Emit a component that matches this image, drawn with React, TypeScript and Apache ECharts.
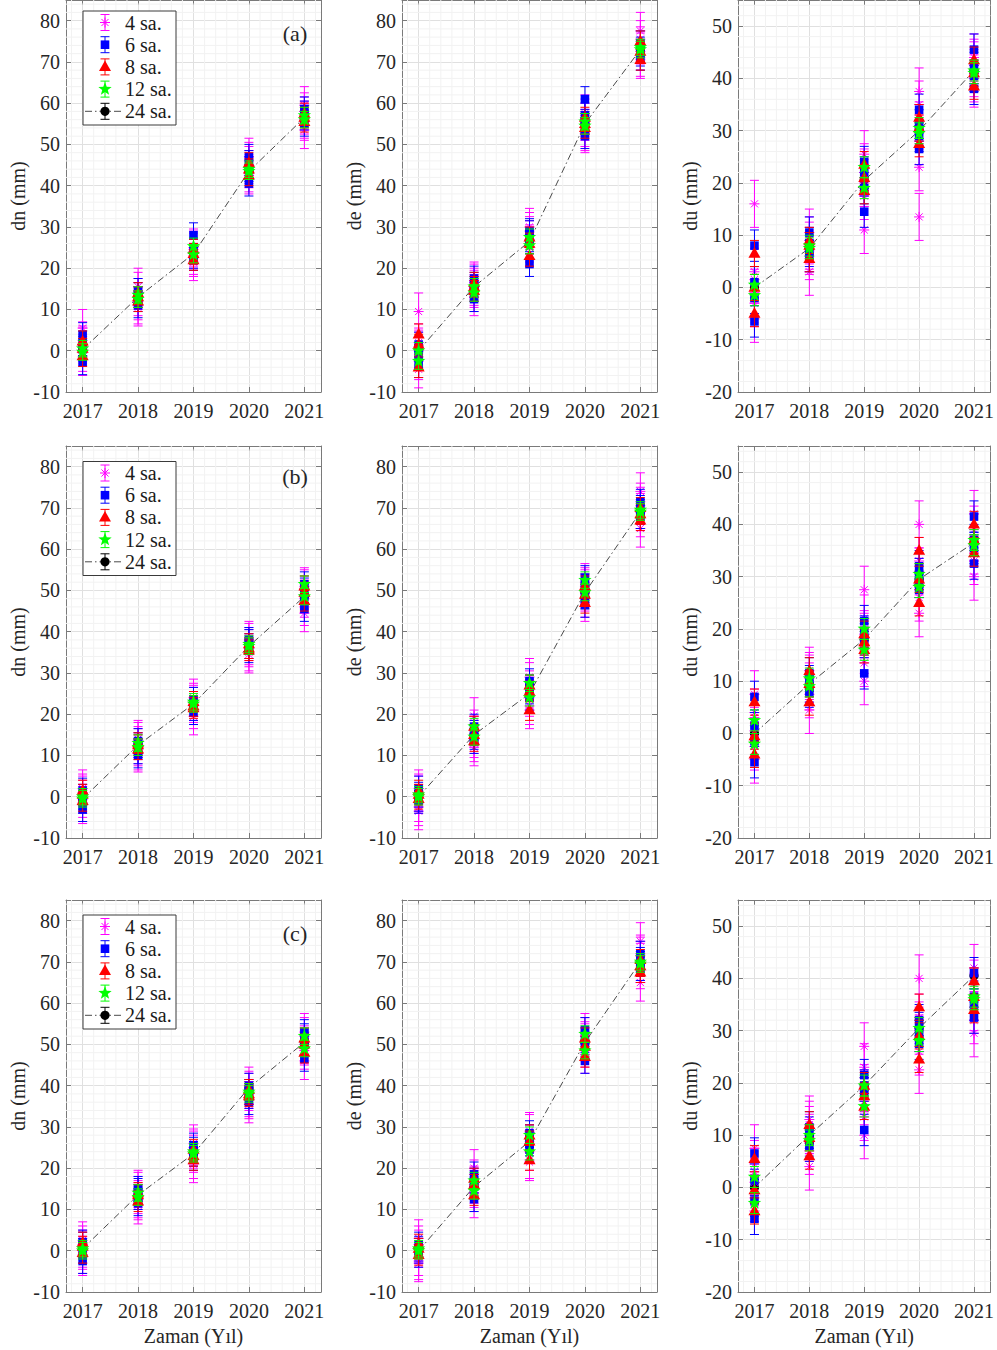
import React, { useEffect, useRef } from "react";
import * as echarts from "echarts";

// ---------- categories / labels ----------
const YEARS = [2017, 2018, 2019, 2020, 2021];
const SERIES_NAMES = ["4 sa.", "6 sa.", "8 sa.", "12 sa.", "24 sa."];
const PANEL_TAGS = ["(a)", "(b)", "(c)"];
const Y_TITLES = ["dn (mm)", "de (mm)", "du (mm)"];
const X_TITLE = "Zaman (Yıl)";
const X_RANGE = [2016.7, 2021.3];
const Y_RANGE_HORIZ = [-10, 85];
const Y_RANGE_UP = [-20, 55];
const Y_TICK_STEP = 10;
// error bar half-lengths (mm) per session length
const ERROR_HALF = [4.5, 3, 2.5, 2, 1.5];

// ---------- (a) ----------
const A_DN_4 = [[5.5, 2.5, 1, -0.5, -1.5, 1.5], [15.5, 11, 13, 14.5, 10.5, 12], [24, 22.5, 25, 23, 21.5, 24.5], [46, 44, 42.5, 45, 43, 47], [59.5, 55.5, 57, 53.5, 58, 56]];
const A_DN_6 = [[3.8, -2.8, 0.5, 1.8], [14.5, 11, 12.5, 13.5], [28, 23, 24, 22.5], [47, 40.5, 44, 45.5], [58.5, 55, 56.5, 57.5]];
const A_DN_8 = [[2.3, -1.3, 0.5], [14, 12, 13], [22, 23.5, 24.5], [45.5, 42.5, 44], [57.5, 55.5, 56.5]];
const A_DN_12 = [[0.5, -0.3], [13.5, 12.5], [25.3, 23.3], [44, 43.5], [57, 56]];
const A_DN_24 = [0.3, 13, 23.5, 43.5, 56.5];

const A_DE_4 = [[9.5, 2, 0, -2.5, -4.5, 1], [16.5, 14, 15.5, 13, 17, 15], [30, 27, 25, 28, 26, 29], [57.5, 54, 55.5, 53, 56.5, 52.5], [77.5, 72.5, 74, 70.5, 75.5, 71]];
const A_DE_6 = [[1.5, -3.5, -1, 0.5], [17.5, 12.5, 15, 16], [21, 28.5, 26.5, 29], [61, 52, 55.5, 57], [74.5, 71, 73, 72]];
const A_DE_8 = [[4, -4, 1.5], [16.5, 14.5, 15.5], [23, 27.5, 26], [54, 56.5, 55], [75, 70.5, 72.5]];
const A_DE_12 = [[0, -2.5], [15.5, 14], [27.5, 25.5], [55.5, 54.5], [73.5, 73]];
const A_DE_24 = [0, 15.5, 26.5, 55, 73];

const A_DU_4 = [[16, 3, -1, 1.5, -6, -3], [3, 9, 7, 10.5, 6, 8], [11, 25.5, 23, 20, 17.5, 22], [37.5, 13.5, 23, 31, 35, 28], [44, 40, 42.5, 39, 43, 41]];
const A_DU_6 = [[8, 1, -6.5, -2], [10.5, 7, 8.5, 6], [14.5, 24, 22, 19], [34, 26.5, 31, 29], [45.5, 38, 42, 40.5]];
const A_DU_8 = [[6.5, -5, 0], [5.5, 9, 8], [23.5, 18.5, 21], [32.5, 27.5, 30.5], [43.5, 38.5, 41]];
const A_DU_12 = [[0.5, -1.5], [8, 7.5], [23, 19], [30.5, 29.5], [41.5, 41]];
const A_DU_24 = [0, 7.5, 20.5, 30, 41.5];

// ---------- (b) ----------
const B_DN_4 = [[2, -1.5, 0.5, -2, 1, -0.5], [14, 11, 12.5, 10.5, 13.5, 12], [23, 19.5, 22, 24, 21, 22.5], [38, 36, 35, 37.5, 36.5, 34.5], [49, 46, 50.5, 44.5, 48, 51]];
const B_DN_6 = [[-3, 1.5, -1, 0], [13.5, 11, 12.5, 10], [23.5, 21.5, 22.5, 20.5], [37.5, 35.5, 36.5, 38], [51.5, 45.5, 48.5, 50]];
const B_DN_8 = [[1.5, -1, 0.5], [12.5, 11.5, 13], [22, 23, 21.5], [36, 37, 35.5], [49.5, 47.5, 51]];
const B_DN_12 = [[0, -0.5], [13, 12], [23, 22.5], [37, 36.5], [51.5, 48.5]];
const B_DN_24 = [-0.5, 12.5, 22.5, 36.5, 48.5];

const B_DE_4 = [[1, -3.5, 2, -1.5, 0.5, -2.5], [19.5, 13, 15, 12, 16.5, 14], [28, 22, 26, 24, 29, 21], [51, 48, 49.5, 47, 52, 50.5], [74, 69, 65, 71.5, 67.5, 70.5]];
const B_DE_6 = [[2, -1, 0.5, -0.5], [17, 13.5, 15.5, 14.5], [26.5, 24, 25.5, 28], [53, 48.5, 51, 46.5], [71.5, 68, 70, 69]];
const B_DE_8 = [[1.5, -0.5, 0.5], [17, 13.5, 15], [27, 21, 25.5], [51, 47, 49], [70, 67, 68.5]];
const B_DE_12 = [[0, 0.5], [17, 14.5], [27.5, 24], [52.5, 49.5], [69.5, 69]];
const B_DE_24 = [0, 15, 25, 49.5, 69];

const B_DU_4 = [[7.5, 3, -5, 0.5, -2.5, 4], [4.5, 12, 9, 10.5, 7.5, 11], [27.5, 10, 16, 22, 19, 13.5], [40, 23, 29, 26, 33, 31], [42, 33, 37.5, 30, 39, 35]];
const B_DU_6 = [[7, -5.5, 1.5, -1.5], [11.5, 9, 10, 8], [21.5, 11.5, 18, 19.5], [32, 29, 30.5, 27.5], [41.5, 32.5, 37, 35.5]];
const B_DU_8 = [[6, -4, -0.5], [12, 6, 9.5], [19, 16, 17.5], [35, 25, 29.5], [40, 34.5, 37]];
const B_DU_12 = [[2.5, -2], [10.5, 9], [20, 16], [30.5, 28], [37, 36]];
const B_DU_24 = [0, 9.5, 18, 29.5, 36.5];

// ---------- (c) ----------
const C_DN_4 = [[2.5, -1, 0.5, 1.5, -1.5, 0], [15, 12, 13.5, 11, 14.5, 12.5], [25, 21, 23.5, 26, 22, 24.5], [39, 37, 35.5, 38.5, 40, 36.5], [52, 48.5, 50, 46, 53, 49.5]];
const C_DN_6 = [[-2.5, 1.5, 0, 2], [14.5, 11.5, 13, 15], [24.5, 22.5, 23.5, 25.5], [40, 36, 38.5, 37.5], [53, 46.5, 50.5, 52]];
const C_DN_8 = [[2, -0.5, 1], [13.5, 12, 14], [23, 24.5, 22], [37.5, 39, 38], [51.5, 48, 50]];
const C_DN_12 = [[0.5, 0], [14, 13], [24, 23.5], [38, 38.5], [52, 49]];
const C_DN_24 = [0.5, 13.5, 23.5, 39.5, 50.5];

const C_DE_4 = [[3, -3, 0.5, -1.5, 1.5, -2.5], [20, 14, 16, 12.5, 17.5, 15], [28.5, 22, 26, 24, 29, 21.5], [52, 49, 50.5, 47.5, 53, 51], [75, 70, 65, 72, 68, 71.5]];
const C_DE_6 = [[1.5, -1, 0.5, 0], [18.5, 12.5, 15.5, 17], [27.5, 24.5, 26, 28.5], [53.5, 46, 51, 49.5], [72, 68.5, 70.5, 69.5]];
const C_DE_8 = [[1.5, -1, 0.5], [17.5, 13.5, 16], [28, 22, 26.5], [51.5, 47, 49.5], [70.5, 67.5, 69]];
const C_DE_12 = [[0.5, 0], [17, 14.5], [28, 24], [52.5, 48.5], [70, 69.5]];
const C_DE_24 = [0, 15.5, 26.5, 50.5, 70];

const C_DU_4 = [[7.5, 3, -4.5, 1, -2, 4.5], [4, 12, 9.5, 11, 7, 13], [27, 10, 16.5, 23, 19, 13.5], [40, 22.5, 28.5, 26, 32.5, 30], [42, 32, 36.5, 29.5, 39, 34.5]];
const C_DU_6 = [[6.5, -6, 1.5, -2.5], [11.5, 9, 10.5, 8], [21.5, 11, 18, 19.5], [32, 29, 30.5, 27.5], [41, 32.5, 36.5, 35]];
const C_DU_8 = [[5.5, -4.5, -0.5], [12, 6, 9.5], [19.5, 15.5, 17.5], [34.5, 24.5, 29], [39.5, 34, 36.5]];
const C_DU_12 = [[2, -3], [10, 9], [19.5, 15.5], [30.5, 28], [36.5, 36]];
const C_DU_24 = [0, 10, 19.5, 30.5, 40.5];

const PANELS = [
  [A_DN_4, A_DN_6, A_DN_8, A_DN_12, A_DN_24],
  [A_DE_4, A_DE_6, A_DE_8, A_DE_12, A_DE_24],
  [A_DU_4, A_DU_6, A_DU_8, A_DU_12, A_DU_24],
  [B_DN_4, B_DN_6, B_DN_8, B_DN_12, B_DN_24],
  [B_DE_4, B_DE_6, B_DE_8, B_DE_12, B_DE_24],
  [B_DU_4, B_DU_6, B_DU_8, B_DU_12, B_DU_24],
  [C_DN_4, C_DN_6, C_DN_8, C_DN_12, C_DN_24],
  [C_DE_4, C_DE_6, C_DE_8, C_DE_12, C_DE_24],
  [C_DU_4, C_DU_6, C_DU_8, C_DU_12, C_DU_24],
];

// ---------- styling ----------
const SERIES_COLORS = ["#ff00ff", "#0000ff", "#ff0000", "#00ff00", "#000000"];
const SERIES_MARKERS = ["asterisk", "square", "triangle", "star", "circle"];
const FONT = "Liberation Serif";
const TEXT_COLOR = "#262626";
const AXIS_COLOR = "#7a7a7a";
const MAJOR_GRID = "#e0e0e0";
const MINOR_GRID = "#f2f2f2";
const COL_LEFT = [66, 402, 738];
const COL_WIDTH = 255;
const ROW_TOP = [0, 446, 900];
const ROW_HEIGHT = 392;
const LEGEND_TOP_OFFSET = [11, 15.5, 15];
const TAG_OFFSET = [33, 30, 33];

function markerElements(kind: string, cx: number, cy: number, color: string): any[] {
  if (kind === "asterisk") {
    const r = 5;
    const d = r * Math.SQRT1_2;
    const st = { stroke: color, lineWidth: 1 };
    return [
      { type: "line", shape: { x1: cx - r, y1: cy, x2: cx + r, y2: cy }, style: st },
      { type: "line", shape: { x1: cx, y1: cy - r, x2: cx, y2: cy + r }, style: st },
      { type: "line", shape: { x1: cx - d, y1: cy - d, x2: cx + d, y2: cy + d }, style: st },
      { type: "line", shape: { x1: cx - d, y1: cy + d, x2: cx + d, y2: cy - d }, style: st },
    ];
  }
  if (kind === "square") {
    return [{ type: "rect", shape: { x: cx - 4.3, y: cy - 4.3, width: 8.6, height: 8.6 }, style: { fill: color } }];
  }
  if (kind === "triangle") {
    return [{ type: "polygon", shape: { points: [[cx, cy - 6.5], [cx - 6, cy + 4.2], [cx + 6, cy + 4.2]] }, style: { fill: color } }];
  }
  if (kind === "star") {
    const pts: number[][] = [];
    for (let k = 0; k < 10; k++) {
      const r = k % 2 === 0 ? 7 : 2.9;
      const a = -Math.PI / 2 + (k * Math.PI) / 5;
      pts.push([cx + r * Math.cos(a), cy + r * Math.sin(a)]);
    }
    return [{ type: "polygon", shape: { points: pts }, style: { fill: color } }];
  }
  return [{ type: "circle", shape: { cx, cy, r: 4.6 }, style: { fill: color } }];
}

function errorBarElements(cx: number, yTop: number, yBot: number, color: string, capHalf: number): any[] {
  const st = { stroke: color, lineWidth: 1 };
  return [
    { type: "line", shape: { x1: cx, y1: yTop, x2: cx, y2: yBot }, style: st },
    { type: "line", shape: { x1: cx - capHalf, y1: yTop, x2: cx + capHalf, y2: yTop }, style: st },
    { type: "line", shape: { x1: cx - capHalf, y1: yBot, x2: cx + capHalf, y2: yBot }, style: st },
  ];
}

function buildOption() {
  const grid: any[] = [];
  const xAxis: any[] = [];
  const yAxis: any[] = [];
  const series: any[] = [];
  const graphics: any[] = [];

  const xMinor: number[] = [];
  for (let k = -2; k <= 22; k++) {
    if (k % 5 === 0) continue;
    const v = Math.round((YEARS[0] + k * 0.2) * 10) / 10;
    if (v > X_RANGE[0] && v < X_RANGE[1]) xMinor.push(v);
  }

  for (let g = 0; g < 9; g++) {
    const row = Math.floor(g / 3);
    const col = g % 3;
    const yr = col === 2 ? Y_RANGE_UP : Y_RANGE_HORIZ;
    grid.push({ left: COL_LEFT[col], top: ROW_TOP[row], width: COL_WIDTH, height: ROW_HEIGHT, containLabel: false });

    const tickStyle = { show: true, inside: true, length: 5, lineStyle: { color: AXIS_COLOR, width: 1 } };
    const axisLine = { show: true, onZero: false, lineStyle: { color: AXIS_COLOR, width: 1 } };

    xAxis.push({
      type: "value",
      gridIndex: g,
      min: X_RANGE[0],
      max: X_RANGE[1],
      splitNumber: 5,
      axisLine,
      axisTick: tickStyle,
      axisLabel: {
        show: true,
        showMinLabel: false,
        showMaxLabel: false,
        formatter: (v: number) => (Number.isInteger(v) ? String(v) : ""),
        color: TEXT_COLOR,
        fontSize: 20,
        fontFamily: FONT,
        margin: 9,
      },
      splitLine: { show: true, lineStyle: { color: MAJOR_GRID, width: 1 } },
      name: row === 2 ? X_TITLE : "",
      nameLocation: "middle",
      nameGap: 34,
      nameTextStyle: { color: TEXT_COLOR, fontSize: 20, fontFamily: FONT },
    });
    xAxis.push({
      type: "value",
      gridIndex: g,
      position: "top",
      min: X_RANGE[0],
      max: X_RANGE[1],
      splitNumber: 5,
      axisLine,
      axisTick: tickStyle,
      axisLabel: { show: false },
      splitLine: { show: false },
    });
    yAxis.push({
      type: "value",
      gridIndex: g,
      min: yr[0],
      max: yr[1],
      interval: Y_TICK_STEP,
      axisLine,
      axisTick: tickStyle,
      axisLabel: {
        show: true,
        showMaxLabel: false,
        color: TEXT_COLOR,
        fontSize: 20,
        fontFamily: FONT,
        margin: 6,
      },
      splitLine: { show: true, lineStyle: { color: MAJOR_GRID, width: 1 } },
      name: Y_TITLES[col],
      nameLocation: "middle",
      nameGap: 38,
      nameTextStyle: { color: TEXT_COLOR, fontSize: 20, fontFamily: FONT },
    });
    yAxis.push({
      type: "value",
      gridIndex: g,
      position: "right",
      min: yr[0],
      max: yr[1],
      interval: Y_TICK_STEP,
      axisLine,
      axisTick: tickStyle,
      axisLabel: { show: false },
      splitLine: { show: false },
    });

    const xi = g * 2;
    const yi = g * 2;

    // minor grid
    const minorData: number[][] = [];
    xMinor.forEach((v) => minorData.push([v, yr[0], 0]));
    for (let v = yr[0] + 2; v < yr[1]; v += 2) {
      if (v % 10 !== 0) minorData.push([X_RANGE[0], v, 1]);
    }
    series.push({
      type: "custom",
      xAxisIndex: xi,
      yAxisIndex: yi,
      silent: true,
      z: 1,
      encode: { x: 0, y: 1 },
      data: minorData,
      renderItem: (params: any, api: any) => {
        const cs = params.coordSys;
        const flag = api.value(2);
        if (flag === 0) {
          const px = api.coord([api.value(0), yr[0]])[0];
          return { type: "line", shape: { x1: px, y1: cs.y, x2: px, y2: cs.y + cs.height }, style: { stroke: MINOR_GRID, lineWidth: 1 } };
        }
        const py = api.coord([X_RANGE[0], api.value(1)])[1];
        return { type: "line", shape: { x1: cs.x, y1: py, x2: cs.x + cs.width, y2: py }, style: { stroke: MINOR_GRID, lineWidth: 1 } };
      },
    });

    const panel = PANELS[g];
    // 24 sa. connecting dash-dot line
    const v24 = panel[4] as number[];
    series.push({
      type: "line",
      name: SERIES_NAMES[4],
      xAxisIndex: xi,
      yAxisIndex: yi,
      data: YEARS.map((y, i) => [y, v24[i]]),
      symbol: "none",
      silent: true,
      z: 2,
      lineStyle: { color: "#4a4a4a", width: 1, type: [7, 3, 1.5, 3] },
    });

    const order = [4, 0, 1, 2, 3];
    order.forEach((s) => {
      const vals: any = panel[s];
      const data: number[][] = [];
      YEARS.forEach((y, i) => {
        const arr = s === 4 ? [vals[i]] : vals[i];
        arr.forEach((v: number) => data.push([y, v, ERROR_HALF[s]]));
      });
      const color = SERIES_COLORS[s];
      const kind = SERIES_MARKERS[s];
      series.push({
        type: "custom",
        name: SERIES_NAMES[s],
        xAxisIndex: xi,
        yAxisIndex: yi,
        z: 3,
        encode: { x: 0, y: 1 },
        data,
        renderItem: (params: any, api: any) => {
          const x = api.value(0);
          const y = api.value(1);
          const e = api.value(2);
          const c = api.coord([x, y]);
          const t = api.coord([x, y + e]);
          const b = api.coord([x, y - e]);
          return {
            type: "group",
            children: [...errorBarElements(c[0], t[1], b[1], color, 4.5), ...markerElements(kind, c[0], c[1], color)],
          };
        },
      });
    });

    if (col === 0) {
      // legend box (drawn as graphic)
      const bx = COL_LEFT[0] + 17;
      const by = ROW_TOP[row] + LEGEND_TOP_OFFSET[row];
      const children: any[] = [
        { type: "rect", shape: { x: bx, y: by, width: 93, height: 114 }, style: { fill: "#ffffff", stroke: "#3a3a3a", lineWidth: 1 } },
      ];
      SERIES_NAMES.forEach((name, j) => {
        const cy = by + 11.5 + j * 22.2;
        const cx = bx + 22;
        if (j === 4) {
          children.push({ type: "line", shape: { x1: bx + 2, y1: cy, x2: bx + 41, y2: cy }, style: { stroke: "#4a4a4a", lineWidth: 1, lineDash: [7, 3, 1.5, 3] } });
        }
        children.push(...errorBarElements(cx, cy - 8, cy + 8, SERIES_COLORS[j], 4.5));
        children.push(...markerElements(SERIES_MARKERS[j], cx, cy, SERIES_COLORS[j]));
        children.push({
          type: "text",
          x: bx + 42,
          y: cy,
          style: { text: name, fill: "#1a1a1a", fontSize: 20, fontFamily: FONT, align: "left", verticalAlign: "middle" },
        });
      });
      children.forEach((c) => {
        c.z = 100;
      });
      children.forEach((c) => graphics.push(c));
      graphics.push({
        type: "text",
        z: 100,
        x: COL_LEFT[0] + 229,
        y: ROW_TOP[row] + TAG_OFFSET[row],
        style: { text: PANEL_TAGS[row], fill: TEXT_COLOR, fontSize: 22, fontFamily: FONT, align: "center", verticalAlign: "middle" },
      });
    }
  }

  return {
    animation: false,
    backgroundColor: "#ffffff",
    textStyle: { fontFamily: FONT },
    grid,
    xAxis,
    yAxis,
    series,
    graphic: { elements: graphics },
  };
}

export default function App() {
  const ref = useRef<HTMLDivElement | null>(null);
  useEffect(() => {
    if (!ref.current) return;
    const chart = echarts.init(ref.current, undefined, { renderer: "svg" });
    chart.setOption(buildOption() as any);
    return () => chart.dispose();
  }, []);
  return <div ref={ref} style={{ position: "absolute", left: 0, top: 0, width: 997, height: 1350 }} />;
}
